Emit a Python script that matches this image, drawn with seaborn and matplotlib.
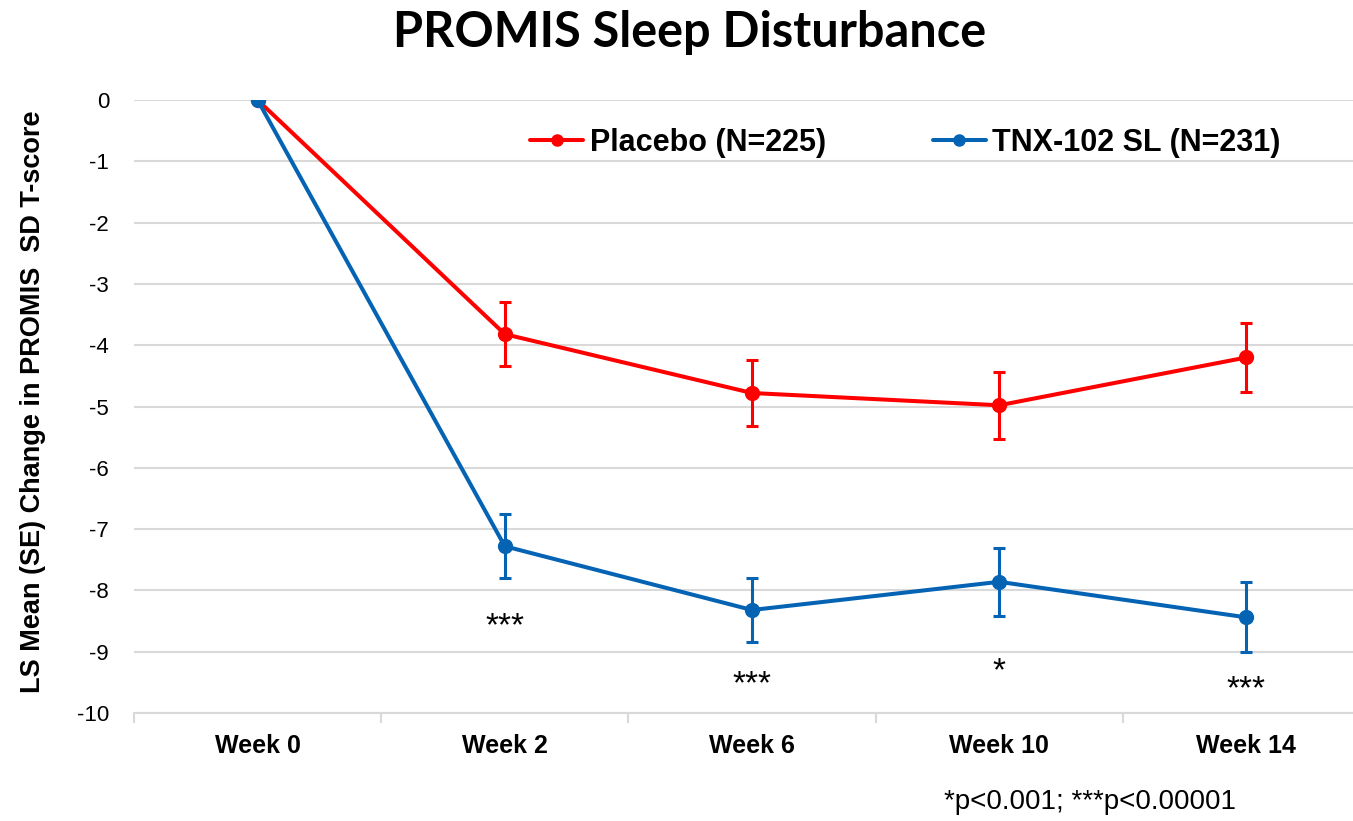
import numpy as np
import pandas as pd
import matplotlib
matplotlib.use("Agg")
import matplotlib.pyplot as plt
from matplotlib.lines import Line2D
import seaborn as sns

# data
weeks = ["Week 0", "Week 2", "Week 6", "Week 10", "Week 14"]
placebo_mean = [0, -3.82, -4.78, -4.98, -4.20]
placebo_se = [0, 0.52, 0.54, 0.55, 0.56]
tnx_mean = [0, -7.28, -8.32, -7.86, -8.44]
tnx_se = [0, 0.52, 0.52, 0.55, 0.57]
stars = ["", "***", "***", "*", "***"]
star_y = [None, -8.6, -9.54, -9.32, -9.62]

groups = ["Placebo (N=225)", "TNX-102 SL (N=231)"]
colors = {"Placebo (N=225)": "#FF0000", "TNX-102 SL (N=231)": "#0563B4"}

df = pd.DataFrame({
    "pos": list(range(len(weeks))) * 2,
    "week": weeks * 2,
    "mean": placebo_mean + tnx_mean,
    "se": placebo_se + tnx_se,
    "group": [groups[0]] * len(weeks) + [groups[1]] * len(weeks),
})

sns.set_style("white")
plt.rcParams["font.family"] = ["Liberation Sans", "DejaVu Sans"]
plt.rcParams.update({"text.color": "black", "axes.labelcolor": "black",
                     "xtick.color": "black", "ytick.color": "black"})

W, H = 1353, 821
fig = plt.figure(figsize=(W / 100, H / 100), dpi=100)
ax = fig.add_axes([134 / W, 1 - 713 / H, (1370 - 134) / W, (713 - 100) / H])

for g in groups:
    sub = df[df["group"] == g]
    ax.errorbar(sub["pos"], sub["mean"], yerr=sub["se"], fmt="none",
                ecolor=colors[g], elinewidth=2.2, capsize=4.5, capthick=2.2, zorder=3)

sns.lineplot(data=df, x="pos", y="mean", hue="group", palette=colors,
             marker="o", markersize=11, markeredgewidth=0, linewidth=2.9,
             ax=ax, zorder=4, legend=False)

for i, s in enumerate(stars):
    if s:
        ax.text(i, star_y[i], s, ha="center", va="center", fontsize=24)

ax.set_xlim(-0.5, 4.5)
ax.set_ylim(-10, 0)
ax.set_yticks(np.arange(0, -11, -1))
ax.set_yticklabels([str(v) for v in range(0, -11, -1)], fontsize=16)
ax.set_xticks(range(len(weeks)))
ax.set_xticklabels(weeks, fontsize=18, fontweight="bold")
ax.set_xticks(np.arange(-0.5, 4.6, 1), minor=True)
ax.tick_params(axis="x", which="major", bottom=False, length=0, pad=15)
ax.tick_params(axis="x", which="minor", bottom=True, length=7, width=1.5,
               color="#D9D9D9", direction="out")
ax.tick_params(axis="y", length=0, pad=18)
ax.grid(axis="y", color="#D9D9D9", linewidth=1.5)
ax.set_axisbelow(True)
for side in ["top", "right", "left"]:
    ax.spines[side].set_visible(False)
ax.spines["bottom"].set_color("#D9D9D9")
ax.spines["bottom"].set_linewidth(1.5)
ax.set_xlabel("")
ax.set_ylabel("LS Mean (SE) Change in PROMIS  SD T-score", fontsize=19.5, fontweight="bold")
ax.yaxis.set_label_coords((46 - 134) / 1236, 0.507)

# legend
handles = [Line2D([0], [0], color=colors[g], marker="o", markersize=8, linewidth=2.9) for g in groups]
fig.legend(handles, groups, loc="center left", bbox_to_anchor=(530 / W, 1 - 143 / H),
           ncol=2, frameon=False, borderpad=0, borderaxespad=0, handlelength=1.75,
           handletextpad=0.2, columnspacing=3.5, prop={"weight": "bold", "size": 22})

fig.text(690 / W, 1 - 47 / H, "PROMIS Sleep Disturbance", ha="center", va="baseline",
         fontsize=35, fontweight="bold", family=["Lato", "DejaVu Sans"])
fig.text(1090 / W, 1 - 802 / H, "*p<0.001; ***p<0.00001", ha="center", va="center", fontsize=20)

fig.savefig("out.png", dpi=100)
